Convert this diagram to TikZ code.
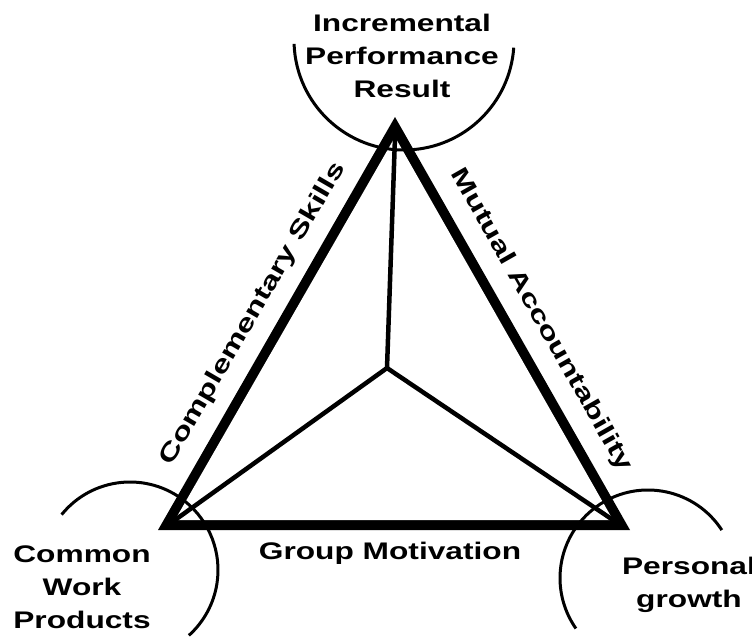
\documentclass[tikz,border=0pt]{standalone}
\usepackage{fontspec}
\setmainfont{Liberation Sans}[FakeStretch=1.32]
\newfontfamily\edgefont{Liberation Sans}[FakeStretch=1.38]
\begin{document}
\begin{tikzpicture}[x=1pt,y=-1pt,
  lbl/.style={font=\fontsize{24}{33}\selectfont\bfseries, align=center, inner sep=0pt},
  elbl/.style={font=\edgefont\fontsize{24}{33}\selectfont\bfseries, inner sep=0pt},
  arcline/.style={line width=3pt},
  spoke/.style={line width=4.5pt, line cap=round}]
\useasboundingbox (0,0) rectangle (752,640);
% triangle frame
\coordinate (A) at (395,117);
\coordinate (B) at (158,530);
\coordinate (C) at (630,530);
\coordinate (Ai) at (395,137);
\coordinate (Bi) at (175,520);
\coordinate (Ci) at (613,520);
\coordinate (O) at (387,368);
\fill (A) -- (B) -- (C) -- cycle;
\fill[white] (Ai) -- (Bi) -- (Ci) -- cycle;
\draw[spoke] (O) -- (Ai);
\draw[spoke] (O) -- (Bi);
\draw[spoke] (O) -- (Ci);
% arcs
\coordinate (T) at (404,40);
\coordinate (L) at (130,570);
\coordinate (R) at (648,578);
\draw[arcline] ([shift={(178:110)}]T) arc[start angle=178,end angle=4,radius=110];
\draw[arcline] ([shift={(219:88)}]L) arc[start angle=219,end angle=408,radius=88];
\draw[arcline] ([shift={(327:88)}]R) arc[start angle=327,end angle=145,radius=88];
% labels
\node[lbl] (top) at (402,56) {Incremental\\Performance\\Result};
\node[lbl] (cwp) at (82,587) {Common\\Work\\Products};
\node[lbl] (pg) at (689,585) {Personal\\growth};
\node[lbl] (gm) at (390,553) {Group Motivation};
\node[elbl, rotate=59.8] (cs) at (253,314) {Complementary Skills};
\node[elbl, rotate=-60.4] (ma) at (541,320) {Mutual Accountability};
\end{tikzpicture}
\end{document}
